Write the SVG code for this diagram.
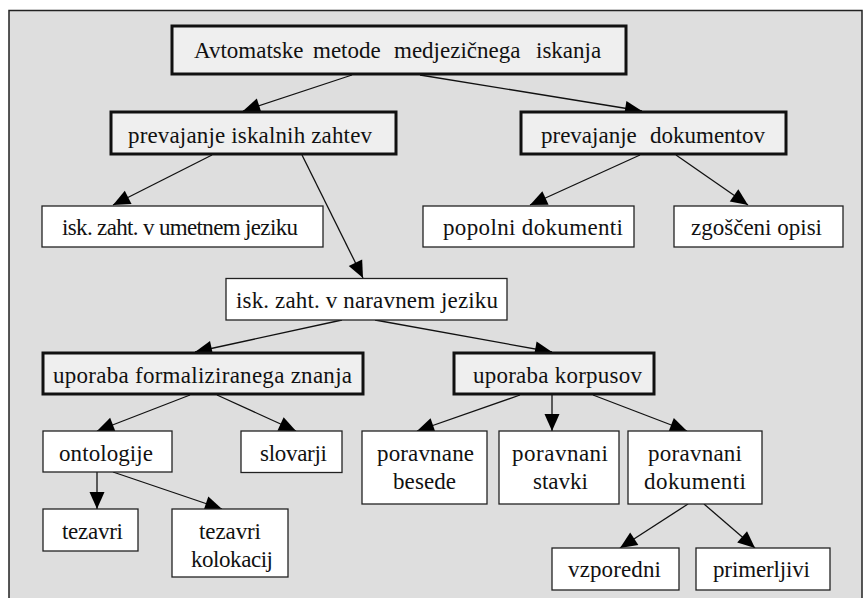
<svg xmlns="http://www.w3.org/2000/svg" width="863" height="598" viewBox="0 0 863 598">
<style>
.thick{fill:#efefef;stroke:#111;stroke-width:3}
.thin{fill:#fff;stroke:#222;stroke-width:1.3}
.c line{stroke:#111;stroke-width:1.3;marker-end:url(#ah)}
</style>
<defs>
<marker id="ah" markerUnits="userSpaceOnUse" markerWidth="20" markerHeight="16" refX="17" refY="7.5" orient="auto" overflow="visible">
<path d="M0,0 L17,7.5 L0,15 z" fill="#000"/>
</marker>
</defs>
<rect x="0" y="0" width="863" height="598" fill="#fff"/>
<rect x="9" y="10.5" width="853" height="600" fill="#dedede" stroke="#222" stroke-width="1.5"/>
<g class="c" id="connectors">
<line x1="352" y1="75" x2="243" y2="111"/>
<line x1="420" y1="75" x2="642" y2="111"/>
<line x1="212" y1="155" x2="113" y2="205"/>
<line x1="302" y1="155" x2="363" y2="278"/>
<line x1="640" y1="155" x2="530" y2="205"/>
<line x1="676" y1="155" x2="748" y2="205"/>
<line x1="342" y1="320" x2="195" y2="352"/>
<line x1="375" y1="320" x2="552" y2="352"/>
<line x1="190" y1="395" x2="97" y2="431"/>
<line x1="217" y1="395" x2="296" y2="431"/>
<line x1="520" y1="395" x2="417" y2="431"/>
<line x1="552" y1="395" x2="552" y2="431"/>
<line x1="593" y1="395" x2="687" y2="431"/>
<line x1="97" y1="472" x2="97" y2="509"/>
<line x1="113" y1="472" x2="222" y2="509"/>
<line x1="688" y1="504" x2="620" y2="548"/>
<line x1="704" y1="504" x2="755" y2="548"/>
</g>
<g font-family="'Liberation Serif', 'DejaVu Serif', 'Times New Roman', serif" font-size="23" fill="#111">
<g id="n1"><rect class="thick" x="172" y="26" width="454" height="48"/>
<text y="57.5"><tspan x="194">Avtomatske</tspan><tspan x="313">metode</tspan><tspan x="394">medjezičnega</tspan><tspan x="536">iskanja</tspan></text></g>
<g id="n2"><rect class="thick" x="111" y="112" width="285" height="42"/>
<text x="128" y="143" textLength="244" lengthAdjust="spacing">prevajanje iskalnih zahtev</text></g>
<g id="n3"><rect class="thick" x="521" y="112" width="265" height="42"/>
<text y="143"><tspan x="541">prevajanje</tspan><tspan x="650">dokumentov</tspan></text></g>
<g id="n4"><rect class="thin" x="42" y="206" width="281" height="41"/>
<text x="62" y="235" textLength="236" lengthAdjust="spacing">isk. zaht. v umetnem jeziku</text></g>
<g id="n5"><rect class="thin" x="423" y="206" width="211" height="41"/>
<text x="443" y="235" textLength="180" lengthAdjust="spacing">popolni dokumenti</text></g>
<g id="n6"><rect class="thin" x="674" y="206" width="169" height="41"/>
<text x="691" y="235" textLength="131" lengthAdjust="spacing">zgoščeni opisi</text></g>
<g id="n7"><rect class="thin" x="226" y="278.5" width="281" height="41.5"/>
<text x="236" y="308" textLength="262" lengthAdjust="spacing">isk. zaht. v naravnem jeziku</text></g>
<g id="n8"><rect class="thick" x="43" y="353" width="320" height="41"/>
<text x="53" y="382.5" textLength="299" lengthAdjust="spacing">uporaba formaliziranega znanja</text></g>
<g id="n9"><rect class="thick" x="454" y="353" width="200" height="41"/>
<text x="473" y="382.5" textLength="169" lengthAdjust="spacing">uporaba korpusov</text></g>
<g id="n10"><rect class="thin" x="43" y="431" width="129" height="41"/>
<text x="59" y="460.5" textLength="94" lengthAdjust="spacing">ontologije</text></g>
<g id="n11"><rect class="thin" x="241" y="431" width="101" height="41.5"/>
<text x="260" y="460.5" textLength="67" lengthAdjust="spacing">slovarji</text></g>
<g id="n12"><rect class="thin" x="362" y="431" width="125" height="73"/>
<text x="377" y="460.5" textLength="97" lengthAdjust="spacing">poravnane</text>
<text x="393" y="489" textLength="63" lengthAdjust="spacing">besede</text></g>
<g id="n13"><rect class="thin" x="499" y="431" width="120" height="73"/>
<text x="512" y="460.5" textLength="96" lengthAdjust="spacing">poravnani</text>
<text x="533" y="489" textLength="55" lengthAdjust="spacing">stavki</text></g>
<g id="n14"><rect class="thin" x="628" y="431" width="134" height="73"/>
<text x="648" y="460.5" textLength="94" lengthAdjust="spacing">poravnani</text>
<text x="644" y="489" textLength="102" lengthAdjust="spacing">dokumenti</text></g>
<g id="n15"><rect class="thin" x="43" y="509" width="95" height="42"/>
<text x="62" y="538.5" textLength="61" lengthAdjust="spacing">tezavri</text></g>
<g id="n16"><rect class="thin" x="172" y="509" width="116" height="68"/>
<text x="199" y="538.5" textLength="62" lengthAdjust="spacing">tezavri</text>
<text x="191" y="566.5" textLength="82" lengthAdjust="spacing">kolokacij</text></g>
<g id="n17"><rect class="thin" x="552" y="548" width="127" height="42"/>
<text x="568" y="577" textLength="93" lengthAdjust="spacing">vzporedni</text></g>
<g id="n18"><rect class="thin" x="696" y="548" width="134" height="42"/>
<text x="713" y="577" textLength="97" lengthAdjust="spacing">primerljivi</text></g>
</g>
</svg>
